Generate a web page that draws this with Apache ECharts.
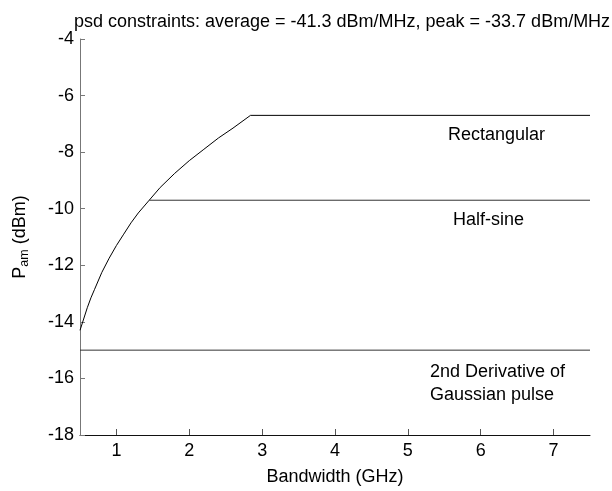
<!DOCTYPE html>
<html>
<head>
<meta charset="utf-8">
<script src="https://cdn.jsdelivr.net/npm/echarts@6/dist/echarts.min.js"></script>
<style>
html,body{margin:0;padding:0;background:#fff;}
#c{width:612px;height:491px;}
</style>
</head>
<body>
<div id="c"></div>
<script>
// Bandwidth (GHz) and P_am (dBm)
const rectBandwidth = [0.5, 0.55, 0.6, 0.65, 0.7, 0.8, 0.9, 1.0, 1.1, 1.2, 1.3, 1.45, 1.6, 1.8, 2.0, 2.2, 2.4, 2.6, 2.84, 7.5];
const rectPower     = [-14.3, -13.9, -13.5, -13.15, -12.85, -12.25, -11.75, -11.3, -10.9, -10.5, -10.15, -9.7, -9.25, -8.75, -8.3, -7.9, -7.5, -7.15, -6.7, -6.7];
const halfSineBandwidth = [1.45, 7.5];
const halfSinePower     = [-9.7, -9.7];
const gaussBandwidth = [0.5, 7.5];
const gaussPower     = [-15, -15];
const xTicks = [1, 2, 3, 4, 5, 6, 7];
const titleText = 'psd constraints: average = -41.3 dBm/MHz, peak = -33.7 dBm/MHz';
const labels = ['Rectangular', 'Half-sine', '2nd Derivative of', 'Gaussian pulse'];

const zip = (a, b) => a.map((v, i) => [v, b[i]]);
const FONT = 'Liberation Sans';
const FS = 18;
const chart = echarts.init(document.getElementById('c'));
const txt = (text, left, top) => ({type: 'text', left, top,
  style: {text, font: FS + 'px "Liberation Sans"', fill: '#000'}});
chart.setOption({
  animation: false,
  backgroundColor: '#fff',
  title: {
    text: titleText, left: 337, top: 8, textAlign: 'center',
    textStyle: {fontFamily: FONT, fontSize: FS, fontWeight: 'normal', color: '#000'}
  },
  grid: {left: 80, right: 22, top: 39, bottom: 51},
  xAxis: {
    type: 'value', min: 0.5, max: 7.5,
    name: 'Bandwidth (GHz)', nameLocation: 'middle', nameGap: 33,
    nameTextStyle: {fontFamily: FONT, fontSize: FS, color: '#000'},
    axisLine: {show: true, lineStyle: {color: '#111', width: 1}},
    axisTick: {show: true, inside: true, length: 6, lineStyle: {color: '#555'},
      customValues: xTicks},
    axisLabel: {fontFamily: FONT, fontSize: FS, color: '#000', margin: 7,
      customValues: xTicks},
    splitLine: {show: false}
  },
  yAxis: {
    type: 'value', min: -18, max: -4, interval: 2,
    name: '{n|P}{s|am}{n| (dBm)}', nameLocation: 'middle', nameGap: 49, nameRotate: 90,
    nameTextStyle: {fontFamily: FONT, color: '#000',
      rich: {
        n: {fontFamily: FONT, fontSize: FS, color: '#000'},
        s: {fontFamily: FONT, fontSize: 12.5, color: '#000', verticalAlign: 'bottom', padding: [8, 0, 0, 0]}
      }},
    axisLine: {show: true, lineStyle: {color: '#777', width: 1}},
    axisTick: {show: true, inside: true, length: 5, lineStyle: {color: '#777'}},
    axisLabel: {fontFamily: FONT, fontSize: FS, color: '#000', margin: 6},
    splitLine: {show: false}
  },
  series: [
    {type: 'line', data: zip(rectBandwidth, rectPower), showSymbol: false, lineStyle: {color: '#000', width: 1}},
    {type: 'line', data: zip(halfSineBandwidth, halfSinePower), showSymbol: false, lineStyle: {color: '#333', width: 1}},
    {type: 'line', data: zip(gaussBandwidth, gaussPower), showSymbol: false, lineStyle: {color: '#333', width: 1}}
  ],
  graphic: [
    txt(labels[0], 448, 126),
    txt(labels[1], 453, 211),
    txt(labels[2], 430, 363),
    txt(labels[3], 430, 386)
  ]
});
</script>
</body>
</html>
